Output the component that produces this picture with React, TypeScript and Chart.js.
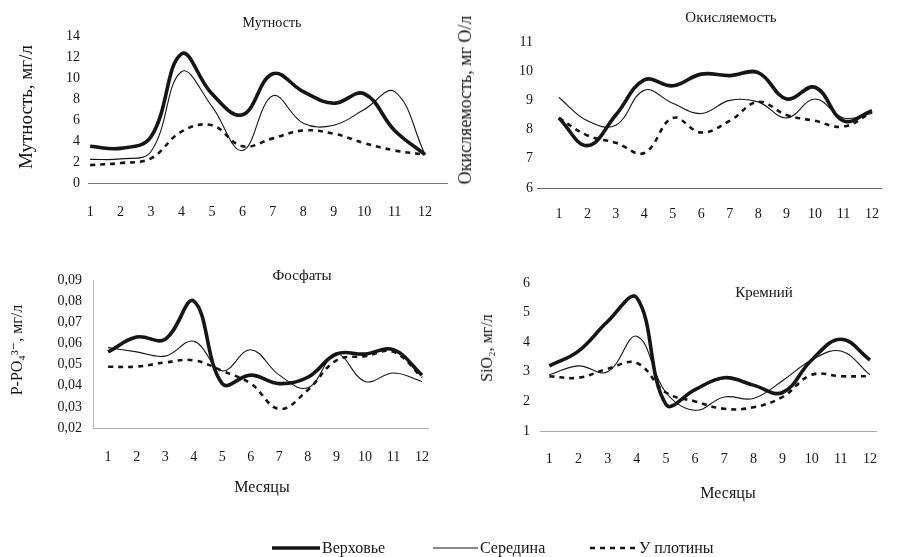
import React, { useEffect, useRef } from "react";
import { Chart, registerables } from "chart.js";
Chart.register(...registerables);

const months = [1, 2, 3, 4, 5, 6, 7, 8, 9, 10, 11, 12];

const turbidityUpper = [3.5, 3.3, 4.4, 12.3, 8.5, 6.5, 10.4, 8.7, 7.6, 8.5, 5.0, 2.7];
const turbidityMiddle = [2.25, 2.3, 3.0, 10.6, 7.3, 3.1, 8.3, 5.7, 5.5, 7.0, 8.7, 2.7];
const turbidityDam = [1.7, 1.9, 2.35, 4.9, 5.5, 3.5, 4.25, 5.0, 4.7, 3.8, 3.1, 2.7];

const oxidUpper = [8.4, 7.45, 8.5, 9.7, 9.5, 9.9, 9.85, 9.95, 9.05, 9.45, 8.3, 8.65];
const oxidMiddle = [9.1, 8.3, 8.15, 9.35, 8.9, 8.55, 9.0, 8.95, 8.4, 9.05, 8.4, 8.55];
const oxidDam = [8.4, 7.8, 7.55, 7.2, 8.4, 7.9, 8.3, 8.95, 8.5, 8.3, 8.1, 8.6];

const phosUpper = [0.056, 0.063, 0.062, 0.08, 0.041, 0.045, 0.041, 0.044, 0.055, 0.055, 0.057, 0.045];
const phosMiddle = [0.058, 0.056, 0.054, 0.061, 0.047, 0.057, 0.045, 0.039, 0.055, 0.042, 0.046, 0.042];
const phosDam = [0.049, 0.049, 0.051, 0.052, 0.047, 0.041, 0.029, 0.038, 0.052, 0.054, 0.056, 0.044];

const silUpper = [3.2, 3.7, 4.7, 5.5, 1.9, 2.4, 2.8, 2.55, 2.3, 3.4, 4.1, 3.4];
const silMiddle = [2.9, 3.2, 3.0, 4.2, 2.3, 1.7, 2.15, 2.1, 2.7, 3.4, 3.7, 2.9];
const silDam = [2.85, 2.8, 3.1, 3.3, 2.3, 2.0, 1.75, 1.8, 2.15, 2.9, 2.85, 2.85];

const seriesNames = ["Верховье", "Середина", "У плотины"];

const W = 897;
const H = 557;
const Y_W = 40;
const X_H = 40;
const SERIF = '"Liberation Serif", "Times New Roman", "DejaVu Serif", serif';
const INK = "#151515";

type Spec = {
  upper: number[];
  middle: number[];
  dam: number[];
  area: { left: number; right: number; top: number; bottom: number };
  xMin: number;
  xMax: number;
  yMin: number;
  yMax: number;
  yStep: number;
  yDecimals: number;
  yPad: number;
  xPad: number;
  xBorder: { color: string; dash: number[] };
  yBorder: null | { color: string; dash: number[] };
};

const specs: Spec[] = [
  {
    upper: turbidityUpper, middle: turbidityMiddle, dam: turbidityDam,
    area: { left: 88, right: 447, top: 36, bottom: 183 },
    xMin: 0.93, xMax: 12.72, yMin: 0, yMax: 14, yStep: 2, yDecimals: 0,
    yPad: 8, xPad: 21,
    xBorder: { color: "#777", dash: [] }, yBorder: null,
  },
  {
    upper: oxidUpper, middle: oxidMiddle, dam: oxidDam,
    area: { left: 537, right: 897, top: 42, bottom: 188 },
    xMin: 0.23, xMax: 12.34, yMin: 6, yMax: 11, yStep: 1, yDecimals: 0,
    yPad: 4, xPad: 18,
    xBorder: { color: "#666", dash: [] }, yBorder: null,
  },
  {
    upper: phosUpper, middle: phosMiddle, dam: phosDam,
    area: { left: 93, right: 428, top: 280, bottom: 428 },
    xMin: 0.47, xMax: 12.21, yMin: 0.02, yMax: 0.09, yStep: 0.01, yDecimals: 2,
    yPad: 11, xPad: 21,
    xBorder: { color: "#aaa", dash: [2, 7] }, yBorder: { color: "#bbb", dash: [1, 2] },
  },
  {
    upper: silUpper, middle: silMiddle, dam: silDam,
    area: { left: 540, right: 897, top: 283, bottom: 431 },
    xMin: 0.68, xMax: 12.23, yMin: 1, yMax: 6, yStep: 1, yDecimals: 0,
    yPad: 10, xPad: 20,
    xBorder: { color: "#aaa", dash: [2, 9] }, yBorder: null,
  },
];

function pts(arr: number[]) {
  return months.map((m, i) => ({ x: m, y: arr[i] }));
}

function buildConfig(s: Spec): any {
  const tickFont = { family: SERIF, size: 14 };
  return {
    type: "line",
    data: {
      datasets: [
        { label: seriesNames[0], data: pts(s.upper), borderColor: INK, borderWidth: 3.6, tension: 0.4, pointRadius: 0, fill: false },
        { label: seriesNames[1], data: pts(s.middle), borderColor: INK, borderWidth: 1.1, tension: 0.4, pointRadius: 0, fill: false },
        { label: seriesNames[2], data: pts(s.dam), borderColor: INK, borderWidth: 2.6, borderDash: [5, 5], tension: 0.4, pointRadius: 0, fill: false },
      ],
    },
    options: {
      animation: false,
      responsive: false,
      maintainAspectRatio: false,
      devicePixelRatio: 1,
      events: [],
      layout: {
        padding: {
          left: s.area.left - Y_W,
          right: W - s.area.right,
          top: s.area.top,
          bottom: H - s.area.bottom - X_H,
        },
      },
      plugins: { legend: { display: false }, title: { display: false }, tooltip: { enabled: false } },
      scales: {
        x: {
          type: "linear",
          min: s.xMin,
          max: s.xMax,
          afterBuildTicks: (sc: any) => { sc.ticks = months.map((v) => ({ value: v })); },
          afterFit: (sc: any) => { sc.height = X_H; },
          grid: { display: false, drawTicks: false, tickLength: 0 },
          border: { display: true, color: s.xBorder.color, width: 1, dash: s.xBorder.dash },
          ticks: { font: tickFont, color: INK, padding: s.xPad, autoSkip: false, maxRotation: 0, callback: (v: any) => String(v) },
        },
        y: {
          type: "linear",
          min: s.yMin,
          max: s.yMax,
          afterFit: (sc: any) => { sc.width = Y_W; },
          grid: { display: false, drawTicks: false, tickLength: 0 },
          border: s.yBorder
            ? { display: true, color: s.yBorder.color, width: 1, dash: s.yBorder.dash }
            : { display: false },
          ticks: {
            stepSize: s.yStep,
            font: tickFont,
            color: INK,
            padding: s.yPad,
            callback: (v: any) => Number(v).toFixed(s.yDecimals).replace(".", ","),
          },
        },
      },
    },
  };
}

function ChartLayer({ spec }: { spec: Spec }) {
  const ref = useRef<HTMLCanvasElement | null>(null);
  useEffect(() => {
    if (!ref.current) return;
    const chart = new Chart(ref.current, buildConfig(spec));
    return () => chart.destroy();
  }, [spec]);
  return (
    <canvas
      ref={ref}
      width={W}
      height={H}
      style={{ position: "absolute", left: 0, top: 0, width: W, height: H }}
    />
  );
}

type Label = { text: React.ReactNode; x: number; y: number; size: number; rotate?: boolean };

const labels: Label[] = [
  { text: "Мутность", x: 272, y: 23, size: 14 },
  { text: "Окисляемость", x: 731, y: 17, size: 15 },
  { text: "Фосфаты", x: 302, y: 275, size: 15 },
  { text: "Кремний", x: 764, y: 292, size: 15 },
  { text: "Мутность, мг/л", x: 25, y: 107, size: 19, rotate: true },
  { text: "Окисляемость, мг О/л", x: 465, y: 100, size: 18, rotate: true },
  { text: "P-PO₄³⁻, мг/л", x: 17, y: 350, size: 16, rotate: true },
  { text: "SiO₂, мг/л", x: 487, y: 348, size: 16, rotate: true },
  { text: "Месяцы", x: 262, y: 487, size: 16 },
  { text: "Месяцы", x: 728, y: 493, size: 16 },
];

function Legend() {
  const items = [
    { name: seriesNames[0], x1: 272, x2: 320, width: 3.6, dash: "" },
    { name: seriesNames[1], x1: 433, x2: 478, width: 1.1, dash: "" },
    { name: seriesNames[2], x1: 590, x2: 637, width: 2.6, dash: "5 5" },
  ];
  const y = 548;
  return (
    <>
      {items.map((it, i) => (
        <React.Fragment key={i}>
          <svg
            width={it.x2 - it.x1}
            height={8}
            style={{ position: "absolute", left: it.x1, top: y - 4 }}
          >
            <line x1={0} y1={4} x2={it.x2 - it.x1} y2={4} stroke={INK} strokeWidth={it.width} strokeDasharray={it.dash || undefined} />
          </svg>
          <div
            style={{
              position: "absolute",
              left: it.x2 + 2,
              top: y,
              transform: "translateY(-50%)",
              fontFamily: SERIF,
              fontSize: 16,
              color: INK,
              whiteSpace: "nowrap",
              lineHeight: 1,
            }}
          >
            {it.name}
          </div>
        </React.Fragment>
      ))}
    </>
  );
}

export default function App() {
  return (
    <div style={{ position: "absolute", left: 0, top: 0, width: W, height: H, background: "#fff", overflow: "hidden" }}>
      {specs.map((s, i) => (
        <ChartLayer key={i} spec={s} />
      ))}
      {labels.map((l, i) => (
        <div
          key={i}
          style={{
            position: "absolute",
            left: l.x,
            top: l.y,
            transform: l.rotate ? "translate(-50%, -50%) rotate(-90deg)" : "translate(-50%, -50%)",
            fontFamily: SERIF,
            fontSize: l.size,
            color: INK,
            whiteSpace: "nowrap",
            lineHeight: 1,
          }}
        >
          {l.text}
        </div>
      ))}
      <Legend />
    </div>
  );
}
